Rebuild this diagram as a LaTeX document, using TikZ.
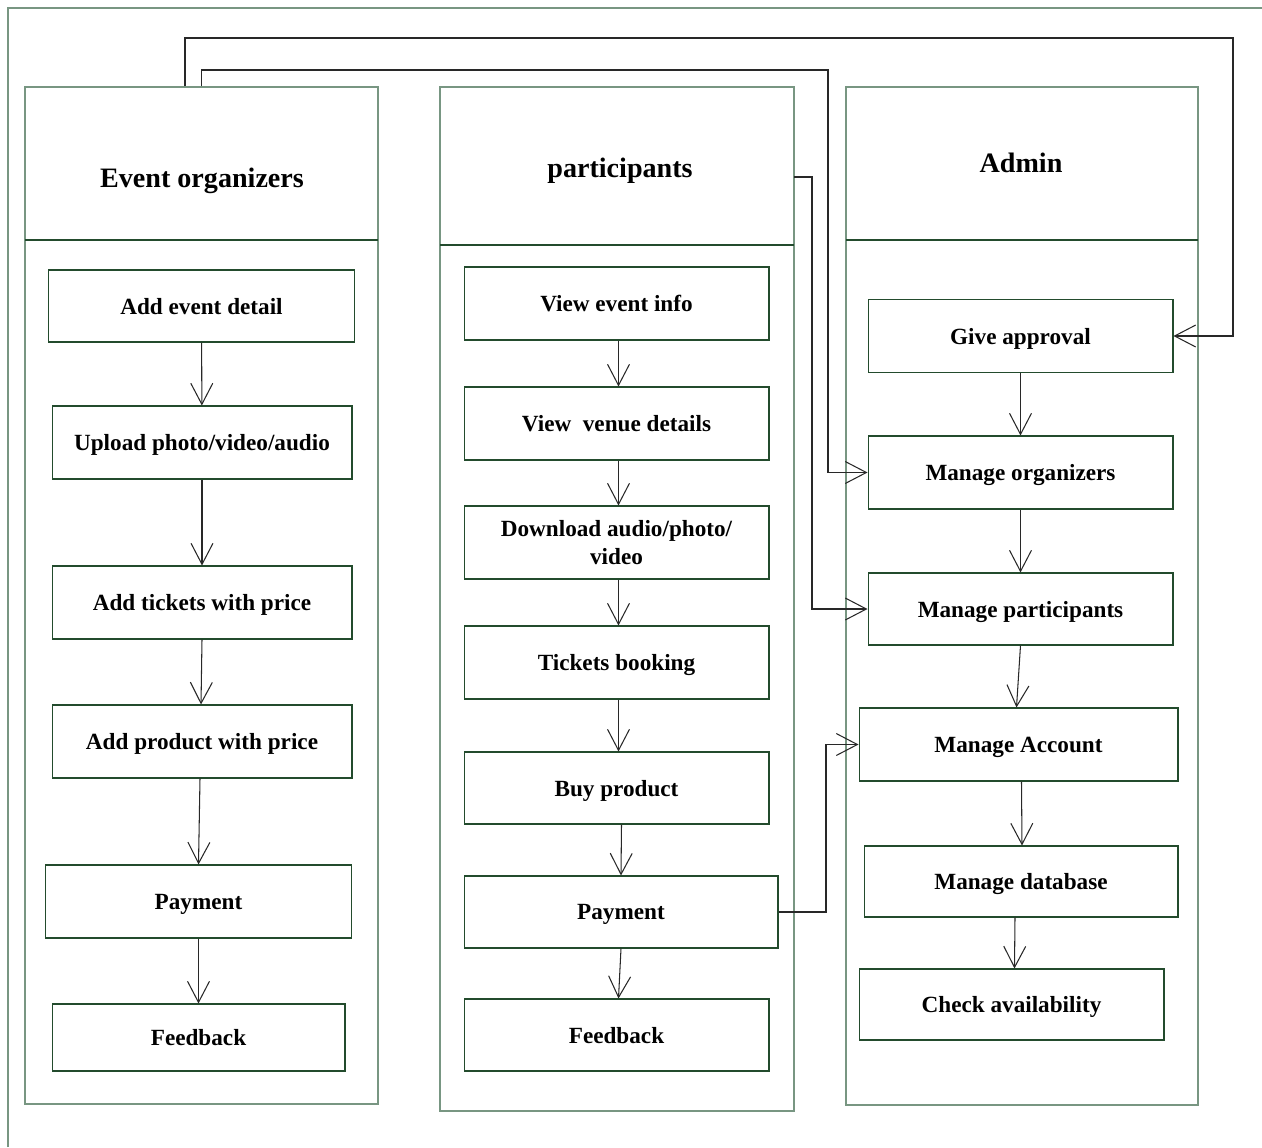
\documentclass[tikz,border=0pt]{standalone}
\usepackage{fontspec}
\setmainfont{Liberation Serif}
\usetikzlibrary{arrows.meta}
\definecolor{boxgreen}{RGB}{35,75,45}
\definecolor{framegreen}{RGB}{120,150,130}
\definecolor{linegray}{RGB}{40,40,40}

\begin{document}
\begin{tikzpicture}[x = 0.02cm, y = -0.02cm,
  lane/.style = {draw = framegreen, line width = 0.8pt, inner sep = 0},
  title/.style = {font = \fontsize{16}{19}\selectfont\bfseries, text depth = 0pt},
  task/.style = {draw = boxgreen, line width = 0.6pt, minimum width = 6.1cm, minimum height = 1.46cm, inner sep = 0, align = center, text depth = 0pt, font = \fontsize{13.2}{16}\selectfont\bfseries},
  flow/.style = {draw = linegray, line width = 0.6pt, -{Straight Barb[length = 12pt, width = 12.5pt]}}]
\useasboundingbox (0, 0) rectangle (1262, 1147);
\draw [framegreen, line width = 0.8pt] (8, 1147) -- (8, 8) -- (1262, 8);
% lanes
\node [lane, minimum width = 7.06cm, minimum height = 20.34cm] (orglane) at (201.5, 595.5) {};
\node [lane, minimum width = 7.08cm, minimum height = 20.48cm] (partlane) at (617, 599) {};
\node [lane, minimum width = 7.04cm, minimum height = 20.36cm] (adminlane) at (1022, 596) {};
\draw [boxgreen, line width = 0.6pt] (25, 240) -- (378, 240);
\draw [boxgreen, line width = 0.6pt] (440, 245) -- (794, 245);
\draw [boxgreen, line width = 0.6pt] (846, 240) -- (1198, 240);
\node [title] (orgtitle) at (202, 178) {Event organizers};
\node [title] (parttitle) at (620, 168) {participants};
\node [title] (admintitle) at (1021, 163) {Admin};
% event organizers
\node [task, minimum width = 6.14cm, minimum height = 1.44cm] (ev1) at (201.5, 306) {Add event detail};
\node [task, minimum width = 6cm] (ev2) at (202, 442.5) {Upload photo/video/audio};
\node [task, minimum width = 6cm] (ev3) at (202, 602.5) {Add tickets with price};
\node [task, minimum width = 6cm] (ev4) at (202, 741.5) {Add product with price};
\node [task, minimum width = 6.14cm] (ev5) at (198.5, 901.5) {Payment};
\node [task, minimum width = 5.86cm, minimum height = 1.34cm] (ev6) at (198.5, 1037.5) {Feedback};
\draw [flow] (ev1) -- (ev2);
\draw [flow] (ev2) -- (ev3);
\draw [flow] (ev3.south) -- ([xshift = -0.02cm]ev4.north);
\draw [flow] ([xshift = -0.04cm]ev4.south) -- (ev5.north);
\draw [flow] (ev5) -- (ev6);
% participants
\node [task] (p1) at (616.5, 303.5) {View event info};
\node [task] (p2) at (616.5, 423.5) {View\ \ venue details};
\node [task] (p3) at (616.5, 542.5) {Download audio/photo/\\video};
\node [task] (p4) at (616.5, 662.5) {Tickets booking};
\node [task, minimum height = 1.44cm] (p5) at (616.5, 788) {Buy product};
\node [task, minimum width = 6.28cm, minimum height = 1.44cm] (p6) at (621, 912) {Payment};
\node [task, minimum height = 1.44cm] (p7) at (616.5, 1035) {Feedback};
\draw [flow] ([xshift = 0.04cm]p1.south) -- ([xshift = 0.04cm]p2.north);
\draw [flow] ([xshift = 0.04cm]p2.south) -- ([xshift = 0.04cm]p3.north);
\draw [flow] ([xshift = 0.04cm]p3.south) -- ([xshift = 0.04cm]p4.north);
\draw [flow] ([xshift = 0.04cm]p4.south) -- ([xshift = 0.04cm]p5.north);
\draw [flow] ([xshift = 0.1cm]p5.south) -- (p6.north);
\draw [flow] (p6.south) -- ([xshift = 0.04cm]p7.north);
% admin
\node [task] (a1) at (1020.5, 336) {Give approval};
\node [task] (a2) at (1020.5, 472.5) {Manage organizers};
\node [task, minimum height = 1.44cm] (a3) at (1020.5, 609) {Manage participants};
\node [task, minimum width = 6.38cm] (a4) at (1018.5, 744.5) {Manage Account};
\node [task, minimum width = 6.28cm, minimum height = 1.42cm] (a5) at (1021, 881.5) {Manage database};
\node [task, minimum height = 1.42cm] (a6) at (1011.5, 1004.5) {Check availability};
\draw [flow] (a1) -- (a2);
\draw [flow] (a2) -- (a3);
\draw [flow] (a3.south) -- ([xshift = -0.04cm]a4.north);
\draw [flow] ([xshift = 0.06cm]a4.south) -- ([xshift = 0.02cm]a5.north);
\draw [flow] ([xshift = -0.12cm]a5.south) -- ([xshift = 0.06cm]a6.north);
% links between lanes
\coordinate (partstub) at (794, 177);
\draw [flow] ([xshift = -0.33cm]orglane.north) |- (1233, 38) |- (a1.east);
\draw [flow] (orglane.north) |- (828, 70) |- (a2.west);
\draw [flow] (partstub) -| (812, 609) -- (a3.west);
\draw [flow] (p6.east) -| (826, 744.5) -- (a4.west);
\end{tikzpicture}
\end{document}
